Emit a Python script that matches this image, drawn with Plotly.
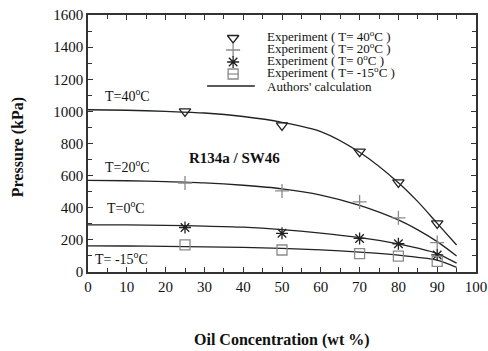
import plotly.graph_objects as go

# Measured pressures (kPa) at each oil concentration (wt %)
conc_exp = [25, 50, 70, 80, 90]
exp_t40 = [1000, 913, 749, 558, 303]
exp_t20 = [554, 505, 436, 337, 183]
exp_t0 = [277, 241, 209, 176, 106]
exp_tm15 = [169, 137, 115, 99, 66]

# Calculated curves (kPa)
conc_calc = [0, 10, 20, 30, 40, 50, 60, 70, 80, 85, 90, 95]
calc_t40 = [1010, 1007, 1000, 990, 968, 932, 874, 745, 556, 438, 303, 168]
calc_t20 = [570, 568, 563, 555, 540, 518, 479, 415, 324, 262, 189, 100]
calc_t0 = [294, 293, 290, 286, 279, 264, 242, 214, 175, 148, 115, 55]
calc_tm15 = [163, 162, 160, 157, 153, 147, 138, 124, 105, 91, 74, 29]

legend_labels = [
    "Experiment ( T= 40<sup>o</sup>C )",
    "Experiment ( T= 20<sup>o</sup>C )",
    "Experiment ( T= 0<sup>o</sup>C )",
    "Experiment ( T= -15<sup>o</sup>C )",
    "Authors' calculation",
]

SERIF = "Liberation Serif"
DARK = "#222222"
GRAY = "#8a8a8a"

fig = go.Figure()

for ys in [calc_t40, calc_t20, calc_t0, calc_tm15]:
    fig.add_trace(go.Scatter(
        x=conc_calc, y=ys, mode="lines",
        line=dict(color=DARK, width=1.3, shape="spline", smoothing=0.8),
        showlegend=False, hoverinfo="skip"))

markers = [
    (exp_t40, "triangle-down-open", DARK, 10),
    (exp_t20, "cross-thin-open", GRAY, 10),
    (exp_t0, "asterisk-open", DARK, 10),
    (exp_tm15, "square-open", GRAY, 10),
]
for ys, sym, col, sz in markers:
    fig.add_trace(go.Scatter(
        x=conc_exp, y=ys, mode="markers",
        marker=dict(symbol=sym, size=sz, color=col, line=dict(color=col, width=1.3)),
        showlegend=False))

# Hand-built legend on an overlay axis spanning the plot area
leg_x = 0.374
leg_rows = [0.9105, 0.8638, 0.8171, 0.7704, 0.7237]
for (ys, sym, col, sz), ly in zip(markers, leg_rows[:4]):
    fig.add_trace(go.Scatter(
        x=[leg_x], y=[ly], xaxis="x2", yaxis="y2", mode="markers",
        marker=dict(symbol=sym, size=sz, color=col, line=dict(color=col, width=1.3)),
        showlegend=False, hoverinfo="skip"))
fig.add_trace(go.Scatter(
    x=[leg_x], y=[leg_rows[3]], xaxis="x2", yaxis="y2", mode="markers",
    marker=dict(symbol="line-ew-open", size=8, color=GRAY, line=dict(color=GRAY, width=1.2)),
    showlegend=False, hoverinfo="skip"))
fig.add_shape(type="line", xref="x2", yref="y2", x0=0.307, x1=0.430,
              y0=leg_rows[4], y1=leg_rows[4], line=dict(color=DARK, width=1.3))
for i, (txt, ly) in enumerate(zip(legend_labels, leg_rows)):
    fig.add_annotation(xref="x2", yref="y2", x=0.456, y=ly, text=txt, showarrow=False,
                       xanchor="left", yanchor="middle",
                       yshift=0 if i == 4 else 2,
                       font=dict(family=SERIF, size=13, color="#111"))

# Curve labels
curve_labels = [("T=40<sup>o</sup>C", 3.9, 1090), ("T=20<sup>o</sup>C", 3.9, 648),
                ("T=0<sup>o</sup>C", 4.4, 392), ("T= -15<sup>o</sup>C", 1.3, 75)]
for txt, lx, ly in curve_labels:
    fig.add_annotation(x=lx, y=ly, text=txt, showarrow=False, xanchor="left",
                       yanchor="middle", yshift=2,
                       font=dict(family=SERIF, size=14, color="#111"))

fig.add_annotation(x=37.8, y=710, text="<b>R134a / SW46</b>", showarrow=False,
                   font=dict(family=SERIF, size=15, color="#111"))

# Axis titles
fig.add_annotation(xref="paper", yref="paper", x=0.501, y=-0.2646,
                   text="<b>Oil Concentration (wt %)</b>", showarrow=False,
                   xanchor="center", yanchor="middle",
                   font=dict(family=SERIF, size=16, color="#111"))
fig.add_annotation(xref="paper", yref="paper", x=-0.180, y=0.486,
                   text="<b>Pressure (kPa)</b>", showarrow=False, textangle=-90,
                   xanchor="center", yanchor="middle",
                   font=dict(family=SERIF, size=16, color="#111"))

axis_common = dict(
    showline=True, linecolor="#333", linewidth=1.5, mirror="ticks",
    ticks="inside", ticklen=5, tickwidth=1, tickcolor="#333",
    showgrid=False, zeroline=False, automargin=False,
    tickfont=dict(family=SERIF, size=15, color="#111"),
)

fig.update_layout(
    width=488, height=351,
    margin=dict(l=88, r=12, t=15, b=79),
    paper_bgcolor="white", plot_bgcolor="white",
    xaxis=dict(range=[0, 100], dtick=10, tick0=0,
               minor=dict(dtick=5, ticks="inside", ticklen=4, tickcolor="#333"),
               **axis_common),
    yaxis=dict(range=[0, 1600], dtick=200, tick0=0,
               minor=dict(dtick=100, ticks="inside", ticklen=4, tickcolor="#333"),
               **axis_common),
    xaxis2=dict(range=[0, 1], overlaying="x", visible=False),
    yaxis2=dict(range=[0, 1], overlaying="y", visible=False),
    showlegend=False,
)

fig.write_html("out.html")
